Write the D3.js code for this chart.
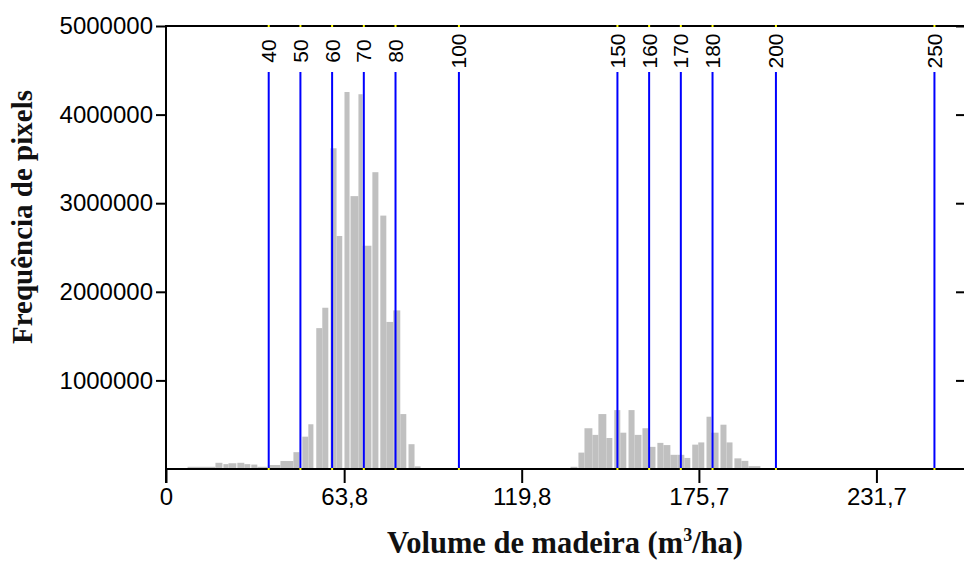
<!DOCTYPE html>
<html>
<head>
<meta charset="utf-8">
<script src="https://cdn.jsdelivr.net/npm/d3@7"></script>
<style>
  html, body { margin: 0; padding: 0; background: #fff; }
  svg { display: block; }
</style>
</head>
<body>
<svg id="chart" width="964" height="561"></svg>
<script>
// ---------------- DATA ----------------
// Histogram bins (volume m3/ha): start, end, pixel frequency
const binStart = [14.4, 23.2, 25.7, 27.3, 30.1, 32.3, 34.5, 36.4, 40.2, 43.7, 47.8,
  50.6, 52.5, 55.0, 56.9, 59.5, 61.4, 63.9, 65.8, 68.3, 69.6, 72.7, 75.2, 77.1, 79.3, 81.5, 84.1, 86.0,
  135.2, 137.7, 139.6, 142.1, 144.0, 146.5, 149.0, 150.9, 153.5, 155.4, 157.9, 159.8, 162.6, 164.5,
  166.7, 168.9, 171.1, 173.6, 175.5, 178.1, 179.6, 182.5, 184.4, 186.9, 189.1, 191.3];
const binEnd = [23.2, 25.4, 27.3, 29.8, 32.3, 34.2, 36.4, 39.6, 43.7, 47.8, 49.7,
  52.5, 54.1, 56.9, 58.8, 61.4, 63.2, 65.5, 68.3, 69.6, 72.4, 74.6, 77.1, 79.3, 81.5, 83.4, 86.0, 87.9,
  137.4, 139.6, 142.1, 144.0, 146.5, 148.4, 150.9, 152.8, 155.4, 157.6, 159.8, 162.0, 164.5, 166.7,
  168.9, 171.1, 173.0, 175.5, 177.4, 179.6, 181.9, 184.4, 186.3, 189.1, 191.3, 195.1];
const binCount = [25000, 70000, 55000, 65000, 70000, 55000, 50000, 25000, 45000, 90000, 190000,
  365000, 505000, 1590000, 1820000, 3620000, 2630000, 4255000, 3080000, 4230000, 2520000, 3350000, 2860000, 1660000, 1790000, 620000, 280000, 30000,
  25000, 185000, 460000, 385000, 620000, 350000, 665000, 410000, 665000, 385000, 460000, 250000, 295000, 270000,
  160000, 160000, 125000, 275000, 300000, 590000, 410000, 500000, 300000, 120000, 92000, 32000];

// Class break lines
const breakValues = [40, 50, 60, 70, 80, 100, 150, 160, 170, 180, 200, 250];

// Axis ticks
const yTickValues = [1000000, 2000000, 3000000, 4000000, 5000000];
const xTickValues = [7.6, 63.8, 119.8, 175.7, 231.7];
const xTickLabels = ["0", "63,8", "119,8", "175,7", "231,7"];

const xTitle = "Volume de madeira (m";
const yTitle = "Frequência de pixels";

// ---------------- CHART ----------------
const svg = d3.select("#chart");
const x = d3.scaleLinear().domain([7.6, 258]).range([166, 959.8]);
const y = d3.scaleLinear().domain([0, 5000000]).range([469, 26]);
const sans = "'Liberation Sans', Arial, sans-serif";
const serif = "'Liberation Serif', 'Times New Roman', serif";

const bins = binStart.map((s, i) => ({ s, e: binEnd[i], c: binCount[i] }));

// Bars
svg.append("g").selectAll("rect").data(bins).join("rect")
  .attr("x", d => x(d.s))
  .attr("width", d => x(d.e) - x(d.s))
  .attr("y", d => y(d.c))
  .attr("height", d => y(0) - y(d.c))
  .attr("fill", "#c0c0c0");

// Break lines
const brk = svg.append("g");
brk.selectAll("line").data(breakValues).join("line")
  .attr("x1", d => x(d)).attr("x2", d => x(d))
  .attr("y1", 72).attr("y2", y(0))
  .attr("stroke", "#0000ff").attr("stroke-width", 2);
brk.selectAll("text").data(breakValues).join("text")
  .attr("transform", d => `translate(${x(d)},51) rotate(-90)`)
  .attr("text-anchor", "middle")
  .attr("dy", "0.36em")
  .attr("font-family", sans).attr("font-size", 21)
  .attr("fill", "#000")
  .text(d => d);

// Left axis
const gy = svg.append("g").attr("transform", "translate(166,0)")
  .call(d3.axisLeft(y).tickValues(yTickValues).tickSize(10).tickSizeOuter(0).tickPadding(3).tickFormat(d3.format("d")));
gy.select(".domain").remove();
gy.selectAll(".tick line").attr("stroke", "#000").attr("stroke-width", 2);
gy.selectAll(".tick text").attr("font-family", sans).attr("font-size", 24).attr("fill", "#000");
svg.append("line").attr("x1", 166).attr("x2", 166).attr("y1", y(5000000) - 1).attr("y2", 483)
  .attr("stroke", "#000").attr("stroke-width", 2);

// Right axis (mostly off-canvas), inward ticks
const gr = svg.append("g").attr("transform", "translate(966,0)")
  .call(d3.axisRight(y).tickValues(yTickValues).tickSize(-10).tickSizeOuter(0).tickFormat(""));
gr.select(".domain").attr("stroke", "#000").attr("stroke-width", 2);
gr.selectAll(".tick line").attr("stroke", "#000").attr("stroke-width", 2);

// Top frame
svg.append("line").attr("x1", 166).attr("x2", 966).attr("y1", y(5000000)).attr("y2", y(5000000))
  .attr("stroke", "#000").attr("stroke-width", 2);

// Bottom axis
const gx = svg.append("g").attr("transform", `translate(0,${y(0)})`)
  .call(d3.axisBottom(x).tickValues(xTickValues).tickSize(14).tickSizeOuter(0).tickPadding(5)
    .tickFormat((d, i) => xTickLabels[i]));
gx.select(".domain").remove();
gx.selectAll(".tick line").attr("stroke", "#000").attr("stroke-width", 2);
gx.selectAll(".tick text").attr("font-family", sans).attr("font-size", 24).attr("fill", "#000");
svg.append("line").attr("x1", 166).attr("x2", 966).attr("y1", y(0)).attr("y2", y(0))
  .attr("stroke", "#000").attr("stroke-width", 2);

// Yellow markers at break positions on top and bottom lines
const ym = svg.append("g");
[y(5000000), y(0)].forEach(yy => {
  ym.selectAll(null).data(breakValues).join("rect")
    .attr("x", d => x(d) - 1).attr("y", yy - 1).attr("width", 2).attr("height", 2)
    .attr("fill", "#ffff00");
});

// Axis titles
const xt = svg.append("text")
  .attr("x", 565).attr("y", 553)
  .attr("text-anchor", "middle")
  .attr("font-family", serif).attr("font-weight", "bold").attr("font-size", 30.5)
  .attr("fill", "#111");
xt.append("tspan").text(xTitle);
xt.append("tspan").attr("dy", -12).attr("font-size", 18).text("3");
xt.append("tspan").attr("dy", 12).text("/ha)");

svg.append("text")
  .attr("transform", "translate(32,217) rotate(-90)")
  .attr("text-anchor", "middle")
  .attr("font-family", serif).attr("font-weight", "bold").attr("font-size", 29)
  .attr("fill", "#111")
  .text(yTitle);
</script>
</body>
</html>
